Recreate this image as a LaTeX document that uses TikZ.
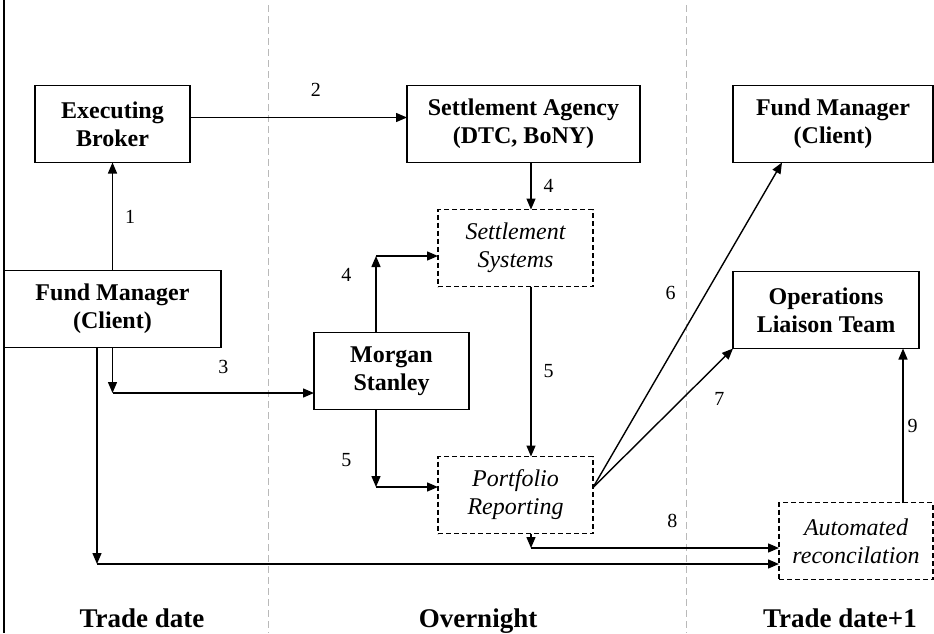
\documentclass[tikz,border=0pt]{standalone}
\usepackage{fontspec}
\setmainfont{Liberation Serif}
\usetikzlibrary{positioning,arrows.meta}

\begin{document}
\begin{tikzpicture}[x=1pt, y=-1pt, line width=1.4pt,
    box/.style = {draw, minimum height=77pt, inner sep=0pt, outer sep=0pt, align=center, font=\fontsize{24}{28}\selectfont\bfseries},
    soft/.style = {box, dash pattern=on 5pt off 3pt, font=\fontsize{24}{28}\selectfont\itshape},
    num/.style = {inner sep=0pt, font=\fontsize{20}{20}\selectfont},
    day/.style = {inner sep=0pt, anchor=base, font=\fontsize{27}{27}\selectfont\bfseries},
    arr/.style = {-{Triangle[length=11pt,width=9pt]}}]
    \useasboundingbox (0,0) rectangle (934,633);
    \draw[gray!55, line width=0.8pt, dash pattern=on 7pt off 4pt] (268,5) -- (268,633) (686,5) -- (686,633);
    \draw[line width=1.6pt] (4,0) -- (4,633);

    \node[box, minimum width=217pt] (fml) at (112.5,309) {Fund Manager\\(Client)};
    \node[box, minimum width=155pt] (eb) [above=108pt of fml] {Executing\\Broker};
    \node[box, minimum width=233pt] (sa) [right=217pt of eb] {Settlement Agency\\(DTC, BoNY)};
    \node[box, minimum width=200pt] (fmr) [right=93pt of sa] {Fund Manager\\(Client)};
    \node[box, minimum width=186pt] (olt) [below=109pt of fmr.south west, anchor=north west] {Operations\\Liaison Team};
    \node[box, minimum width=155pt] (ms) [right=93pt of fml, yshift=-62pt] {Morgan\\Stanley};
    \node[soft, minimum width=155pt] (ss) [below=47pt of sa, xshift=-8pt] {Settlement\\Systems};
    \node[soft, minimum width=155pt] (pr) [below=170pt of ss] {Portfolio\\Reporting};
    \node[soft, minimum width=154pt] (ar) [right=186pt of pr, yshift=-46pt] {Automated\\reconcilation};

    \coordinate (c3) at (112.5,393);
    \coordinate (c4) at (376,256);
    \coordinate (c5) at (376,487);
    \coordinate (c8) at (531,548);
    \coordinate (c0) at (97,564);

    \draw[arr] (fml.north) -- node[num, right=12pt] {1} (eb.south);
    \draw[arr] ([yshift=6.5pt]eb.east) -- node[num, pos=.58, above=20pt] {2} ([yshift=6.5pt]sa.west);
    \draw[arr] (fml.south) -- (c3);
    \draw[arr] (c3) -- node[num, pos=.55, above=19pt] {3} (c3 -| ms.west);
    \draw[arr] ([xshift=7.5pt]sa.south) -- node[num, right=12pt] {4} ([xshift=15.5pt]ss.north);
    \draw[arr] ([xshift=-15.5pt]ms.north) -- node[num, pos=.75, left=24pt] {4} (c4);
    \draw[arr] (c4) -- (c4 -| ss.west);
    \draw[arr] ([xshift=15.5pt]ss.south) -- node[num, right=12pt] {5} ([xshift=15.5pt]pr.north);
    \draw[arr] ([xshift=-15.5pt]ms.south) -- node[num, pos=.65, left=24pt] {5} (c5);
    \draw[arr] (c5) -- (c5 -| pr.west);
    \draw[arr] ([yshift=7.5pt]pr.east) -- node[num, pos=.6, left=30pt] {6} ([xshift=49pt]fmr.south west);
    \draw[arr] ([yshift=7.5pt]pr.east) -- node[num, pos=.64, right=31pt] {7} (olt.south west);
    \draw[arr] ([xshift=15.5pt]pr.south) -- (c8);
    \draw[arr] (c8) -- node[num, pos=.57, above=20pt] {8} (c8 -| ar.west);
    \draw[arr] ([xshift=-15.5pt]fml.south) -- (c0);
    \draw[arr] (c0) -- (c0 -| ar.west);
    \draw[arr] ([xshift=47pt]ar.north) -- node[num, right=4pt] {9} ([xshift=47pt]ar.north |- olt.south);

    \node[day] (td) at (142,627) {Trade date};
    \node[day] (on) at (478,627) {Overnight};
    \node[day] (tdn) at (840,627) {Trade date+1};
\end{tikzpicture}
\end{document}
